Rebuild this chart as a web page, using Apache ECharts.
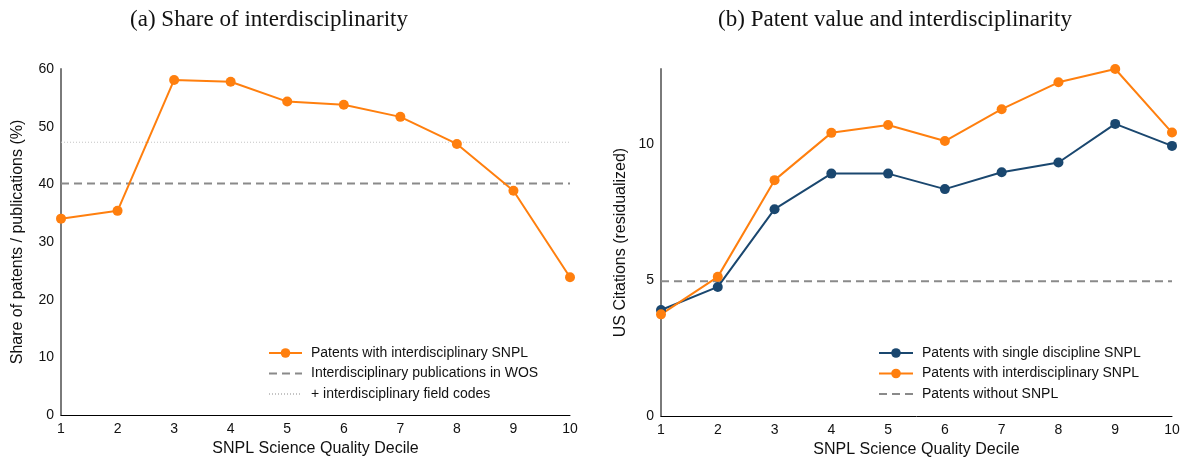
<!DOCTYPE html>
<html>
<head>
<meta charset="utf-8">
<script src="https://cdn.jsdelivr.net/npm/echarts@6/dist/echarts.min.js"></script>
<style>
html,body{margin:0;padding:0;background:#fff;}
#chart{width:1189px;height:459px;}
</style>
</head>
<body>
<div id="chart"></div>
<script>
// ---- data ----
const deciles = [1, 2, 3, 4, 5, 6, 7, 8, 9, 10];
// panel (a)
const shareInterdisciplinary = [34.05, 35.4, 58.1, 57.8, 54.35, 53.8, 51.7, 47.0, 38.9, 23.9];
const wosInterdisciplinary = 40.15;
const wosWithFieldCodes = 47.3;
// panel (b)
const citesSingle = [3.90, 4.75, 7.61, 8.92, 8.92, 8.35, 8.97, 9.33, 10.75, 9.94];
const citesInterdisciplinary = [3.74, 5.12, 8.68, 10.42, 10.71, 10.12, 11.29, 12.28, 12.77, 10.43];
const citesWithoutSNPL = 4.96;

const titles = ['(a) Share of interdisciplinarity', '(b) Patent value and interdisciplinarity'];
const names = {
  inter: 'Patents with interdisciplinary SNPL',
  wos: 'Interdisciplinary publications in WOS',
  codes: '+ interdisciplinary field codes',
  single: 'Patents with single discipline SNPL',
  none: 'Patents without SNPL'
};

const ORANGE = '#FF7F0E';
const NAVY = '#1A476F';
const GRAY = '#8a8a8a';
const FONT = 'Liberation Sans';

function pairs(vals){ return deciles.map((d,i)=>[d, vals[i]]); }
function flat(v){ return [[deciles[0], v], [deciles[deciles.length-1], v]]; }

const chart = echarts.init(document.getElementById('chart'), null, {renderer:'canvas'});

const xAxisCommon = {
  type: 'value', min: 1, max: 10, interval: 1,
  name: 'SNPL Science Quality Decile', nameLocation: 'middle', nameGap: 26,
  nameTextStyle: {fontFamily: FONT, fontSize: 16, color: '#111'},
  axisLine: {show: true, onZero: false, lineStyle: {color: '#000', width: 1}},
  axisTick: {show: false},
  splitLine: {show: false},
  axisLabel: {fontFamily: FONT, fontSize: 14, color: '#111', margin: 7}
};
const yAxisCommon = {
  type: 'value', min: 0,
  nameLocation: 'middle', nameRotate: 90,
  nameTextStyle: {fontFamily: FONT, fontSize: 16, color: '#111'},
  axisLine: {show: true, lineStyle: {color: '#7a7a7a', width: 2}},
  axisTick: {show: false},
  splitLine: {show: false},
  axisLabel: {fontFamily: FONT, fontSize: 14, color: '#111', margin: 7}
};

const lineSeries = (name, data, color, xi) => ({
  name, type: 'line', xAxisIndex: xi, yAxisIndex: xi, data,
  symbol: 'circle', symbolSize: 10,
  lineStyle: {color, width: 2}, itemStyle: {color},
  z: 5
});
const refSeries = (name, v, color, type, width, xi) => ({
  name, type: 'line', xAxisIndex: xi, yAxisIndex: xi, data: flat(v),
  symbol: 'none', showSymbol: false,
  lineStyle: {color, width, type}, itemStyle: {color},
  z: 2
});

const hiddenSym = {opacity: 0};
const legendText = {fontFamily: FONT, fontSize: 14, color: '#111', padding: [0, 0, 0, 4]};

const option = {
  animation: false,
  backgroundColor: '#fff',
  title: [
    {text: titles[0], left: 264, top: 3, textAlign: 'center',
     textStyle: {fontFamily: 'Liberation Serif', fontSize: 23, fontWeight: 'normal', color: '#111'}},
    {text: titles[1], left: 890, top: 3, textAlign: 'center',
     textStyle: {fontFamily: 'Liberation Serif', fontSize: 23, fontWeight: 'normal', color: '#111'}}
  ],
  grid: [
    {left: 61, right: 619, top: 69, bottom: 44, containLabel: false, outerBoundsMode: 'none'},
    {left: 661, right: 17, top: 69, bottom: 43, containLabel: false, outerBoundsMode: 'none'}
  ],
  xAxis: [
    Object.assign({}, xAxisCommon, {gridIndex: 0}),
    Object.assign({}, xAxisCommon, {gridIndex: 1})
  ],
  yAxis: [
    Object.assign({}, yAxisCommon, {gridIndex: 0, max: 60, interval: 10,
      name: 'Share of patents / publications (%)', nameGap: 35}),
    Object.assign({}, yAxisCommon, {gridIndex: 1, max: 12.77, interval: 5,
      name: 'US Citations (residualized)', nameGap: 32,
      axisLabel: Object.assign({}, yAxisCommon.axisLabel, {showMaxLabel: false})})
  ],
  legend: [
    {data: [names.inter, {name: names.wos, itemStyle: hiddenSym}, {name: names.codes, itemStyle: hiddenSym}],
     orient: 'vertical', padding: 0,
     left: 268, top: 346, itemWidth: 33, itemHeight: 12, itemGap: 6.5,
     textStyle: legendText},
    {data: [names.single, names.inter, {name: names.none, itemStyle: hiddenSym}],
     orient: 'vertical', padding: 0,
     left: 878, top: 346, itemWidth: 34, itemHeight: 12, itemGap: 6.5,
     textStyle: legendText}
  ],
  series: [
    refSeries(names.codes, wosWithFieldCodes, '#c4c4c4', [1, 2], 1, 0),
    refSeries(names.wos, wosInterdisciplinary, GRAY, [8, 5], 2, 0),
    lineSeries(names.inter, pairs(shareInterdisciplinary), ORANGE, 0),
    refSeries(names.none, citesWithoutSNPL, GRAY, [8, 5], 2, 1),
    lineSeries(names.single, pairs(citesSingle), NAVY, 1),
    lineSeries(names.inter, pairs(citesInterdisciplinary), ORANGE, 1)
  ]
};
chart.setOption(option);
</script>
</body>
</html>
